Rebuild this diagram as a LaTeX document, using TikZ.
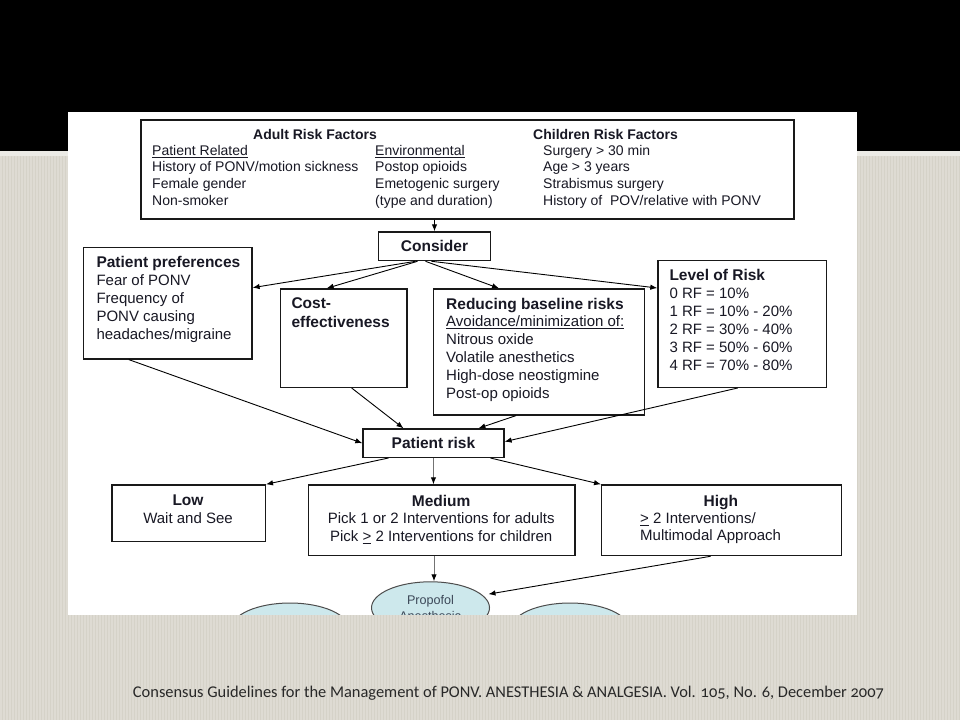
\documentclass[tikz,border=0pt]{standalone}
\usepackage{graphicx}
\usepackage{fontspec}
\setmainfont{Liberation Sans}
\newfontfamily\footfont[Numbers=OldStyle]{Carlito}
\usetikzlibrary{arrows.meta,shapes.geometric}
\definecolor{bgbeige}{RGB}{213,210,200}
\definecolor{bgstripe}{RGB}{222,219,211}
\definecolor{gapline}{RGB}{236,235,230}
\definecolor{txtc}{RGB}{24,24,36}
\definecolor{ellfill}{RGB}{205,232,236}
\definecolor{elltxt}{RGB}{60,72,88}
\definecolor{footc}{RGB}{40,40,40}
\newcommand\fsA{\fontsize{14}{16.6}\selectfont}
\newcommand\fsB{\fontsize{15}{18.1}\selectfont}
\newcommand\fsT{\fontsize{15.5}{18.1}\selectfont\bfseries}
\begin{document}
\begin{tikzpicture}[x=1pt,y=-1pt,
  box/.style={draw=black!90, line width=1.3pt, anchor=north west, inner sep=0pt, text=txtc},
  txtn/.style={anchor=north west, inner sep=0pt, align=left, text=txtc},
  ctxt/.style={anchor=north, inner sep=0pt, align=center, text=txtc},
  arr/.style={draw=black, line width=0.9pt, -{Latex[length=7pt,width=5.5pt]}},
  garr/.style={draw=black!55, line width=1pt, -{Latex[length=7pt,width=5.5pt,color=black]}},
  oval/.style={ellipse, draw=black!70, line width=1pt, fill=ellfill, minimum width=118pt, minimum height=52pt, inner sep=1pt, align=center, text=elltxt, font=\fontsize{12.6}{16}\selectfont}
]
\useasboundingbox (0,0) rectangle (960,720);
\fill[black] (0,0) rectangle (960,151);
\fill[gapline] (0,151) rectangle (960,155.5);
\fill[bgbeige] (0,155.5) rectangle (960,720);
\foreach \i in {0,3,...,957} {\fill[bgstripe] (\i,155.5) rectangle ({\i+1.5},720);}
\fill[white] (68,112) rectangle (856.5,614.5);

% top box
\node[box, line width=1.7pt, minimum width=653pt, minimum height=98.7pt] (top) at (140,119.3) {};
\node[txtn, font=\fsA\bfseries] (adt) at (253,129) {Adult Risk Factors};
\node[txtn, font=\fsA] (prl) at (152,145) {\underline{Patient Related}\\History of PONV/motion sickness\\Female gender\\Non-smoker};
\node[txtn, font=\fsA] (env) at (375,145) {\underline{Environmental}\\Postop opioids\\Emetogenic surgery\\(type and duration)};
\node[txtn, font=\fsA\bfseries] (chd) at (533,129) {Children Risk Factors};
\node[txtn, font=\fsA] (chl) at (543,145) {Surgery > 30 min\\Age > 3 years\\Strabismus surgery\\History of\ \ POV/relative with PONV};

\node[box, minimum width=112.3pt, minimum height=28.7pt, font=\fsT] (cons) at (377.7,231.3) {Consider};

\node[box, minimum width=168.3pt, minimum height=111.6pt] (pref) at (83,246.7) {};
\node[txtn, font=\fsB] (preft) at (96.3,255.7) {{\fsT Patient preferences}\\Fear of PONV\\Frequency of\\PONV causing\\headaches/migraine};

\node[box, minimum width=126.6pt, minimum height=98.4pt] (cost) at (279.7,288.3) {};
\node[txtn, font=\fontsize{15.5}{19}\selectfont\bfseries] (costt) at (291.3,297.7) {Cost-\\effectiveness};

\node[box, minimum width=211.3pt, minimum height=126pt] (red) at (432.7,288.3) {};
\node[txtn, font=\fontsize{15}{17.8}\selectfont] (redt) at (446,297.7) {{\fsT Reducing baseline risks}\\\underline{Avoidance/minimization of:}\\Nitrous oxide\\Volatile anesthetics\\High-dose neostigmine\\Post-op opioids};

\node[box, minimum width=168.7pt, minimum height=126.7pt] (lev) at (657.3,260) {};
\node[txtn, font=\fontsize{15}{18.1}\selectfont] (levt) at (669.3,269) {{\fsT Level of Risk}\\0 RF = 10\%\\1 RF = 10\% - 20\%\\2 RF = 30\% - 40\%\\3 RF = 50\% - 60\%\\4 RF = 70\% - 80\%};

\node[box, minimum width=141pt, minimum height=28.4pt, font=\fsT] (prisk) at (362.3,428.3) {Patient risk};

\node[box, minimum width=153.4pt, minimum height=56.7pt] (low) at (111.3,484.3) {};
\node[ctxt, font=\fontsize{15}{17.4}\selectfont] (lowt) at (188,495) {{\fsT Low}\\Wait and See};

\node[box, minimum width=266.3pt, minimum height=70.7pt] (med) at (308,484.3) {};
\node[ctxt, font=\fontsize{15}{17.5}\selectfont] (medt) at (441.2,495) {{\fsT Medium}\\Pick 1 or 2 Interventions for adults\\Pick \underline{>} 2 Interventions for children};

\node[box, minimum width=239.7pt, minimum height=70.7pt] (high) at (601,484.3) {};
\node[ctxt, font=\fsT] (hight) at (720.8,495) {High};
\node[txtn, font=\fontsize{15}{17.5}\selectfont] (highb) at (640,512.3) {\underline{>} 2 Interventions/\\Multimodal Approach};

\begin{scope}
\clip (68,112) rectangle (856.5,614.5);
\node[oval] (lell) at (290,629) {};
\node[oval] (rell) at (570,629) {};
\node[oval] (prop) at (430.5,607.8) {Propofol\\Anesthesia};
\end{scope}

% connectors
\draw[arr] (cons.north |- top.south) -- (cons.north);
\draw[arr] ([xshift=-19pt]cons.south) -- ([yshift=15.5pt]pref.east);
\draw[arr] ([xshift=-17pt]cons.south) -- ([xshift=-17pt]cost.north);
\draw[arr] ([xshift=-9pt]cons.south) -- ([xshift=-40pt]red.north);
\draw[arr] ([xshift=-3pt]cons.south) -- ([yshift=36pt]lev.west);
\draw[arr] ([xshift=-39pt]pref.south) -- (prisk.west);
\draw[arr] ([xshift=8pt]cost.south) -- ([xshift=-30pt]prisk.north);
\draw[arr] ([xshift=-23pt]red.south) -- ([xshift=45pt]prisk.north);
\draw[arr] ([xshift=-4.6pt]lev.south) -- ([yshift=1.5pt]prisk.east);
\draw[arr] ([xshift=-45pt]prisk.south) -- (low.north east);
\draw[garr] (prisk.south) -- (prisk.south |- med.north);
\draw[arr] ([xshift=57pt]prisk.south) -- (high.north west);
\coordinate (pn) at ([xshift=3.5pt]prop.north);
\draw[garr] (pn |- med.south) -- (pn);
\draw[arr] ([xshift=-11pt]high.south) -- ([xshift=7pt]prop.15);

\node[text=footc, inner sep=0pt] (foot) at (508.5,693) {\resizebox{751pt}{!}{\footfont\fontsize{16}{18}\selectfont Consensus Guidelines for the Management of PONV. ANESTHESIA \& ANALGESIA. Vol. 105, No. 6, December 2007}};
\end{tikzpicture}
\end{document}
